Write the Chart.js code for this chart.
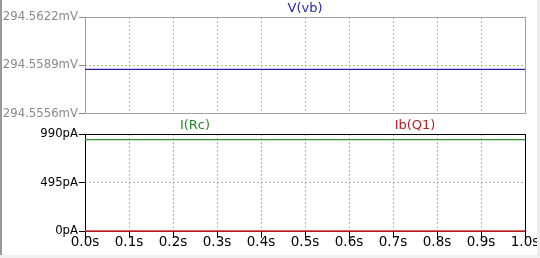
<!DOCTYPE html>
<html>
<head>
<meta charset="utf-8">
<script src="https://cdn.jsdelivr.net/npm/chart.js@4"></script>
<style>
body{margin:0;background:#fff;width:540px;height:258px;overflow:hidden;position:relative}
#edgeL{position:absolute;left:0;top:0;width:2px;height:258px;background:#9a9a9a}
#edgeR{position:absolute;left:537px;top:0;width:3px;height:258px;background:#ececec}
#edgeB{position:absolute;left:0;top:255px;width:540px;height:3px;background:#f0f0f0}
#wTop{position:absolute;left:0;top:0;width:540px;height:122px}
#wBot{position:absolute;left:0;top:110px;width:540px;height:148px}
</style>
</head>
<body>
<div id="wTop"><canvas id="chartTopHTML"></canvas></div>
<div id="wBot"><canvas id="chartBotHTML"></canvas></div>
<div id="edgeL"></div><div id="edgeR"></div><div id="edgeB"></div>
<script>
// time axis
const times=[0,1]
const xTicks=[0,0.1,0.2,0.3,0.4,0.5,0.6,0.7,0.8,0.9,1.0]
const xTickLabels=["0.0s","0.1s","0.2s","0.3s","0.4s","0.5s","0.6s","0.7s","0.8s","0.9s","1.0s"]

// top pane, mV
const vbValues=[294.5586,294.5586]
const topTicks=[294.5556,294.5589,294.5622]
const topTickLabels=["294.5556mV","294.5589mV","294.5622mV"]

// bottom pane, pA
const ircValues=[932,932]
const ibValues=[0,0]
const botTicks=[0,495,990]
const botTickLabels=["0pA","495pA","990pA"]

const FONT_N="'DejaVu Sans Condensed','DejaVu Sans',sans-serif"
const FONT_W="'DejaVu Sans',sans-serif"
Chart.defaults.font.family=FONT_N
Chart.defaults.font.size=13

const framePlugin={
  id:'frame',
  beforeDatasetsDraw(chart,args,opts){
    const a=chart.chartArea,ctx=chart.ctx
    ctx.save()
    ctx.strokeStyle=opts.color
    ctx.lineWidth=1
    ctx.strokeRect(Math.round(a.left)+0.5,Math.round(a.top)+0.5,Math.round(a.right-a.left),Math.round(a.bottom-a.top))
    ctx.restore()
  }
}
const namesPlugin={
  id:'names',
  afterDraw(chart,args,opts){
    const a=chart.chartArea,ctx=chart.ctx
    ctx.save()
    ctx.font="13px "+FONT_W
    ctx.textAlign='center'
    ctx.textBaseline='middle'
    opts.items.forEach(it=>{
      ctx.fillStyle=it.color
      ctx.fillText(it.text,a.left+(a.right-a.left)*it.at,a.top-opts.dy)
    })
    ctx.restore()
  }
}

function pts(ys){return times.map((t,i)=>({x:t,y:ys[i]}))}

function xAxis(showTicks,axisColor){
  return {
    type:'linear',min:0,max:1,
    afterBuildTicks:s=>{s.ticks=xTicks.map(v=>({value:v}))},
    afterFit:s=>{s.height=showTicks?27:0},
    grid:{color:'#b4b4b4',drawTicks:showTicks,tickLength:7,tickColor:axisColor,tickBorderDash:[],tickWidth:1},
    border:{display:false,dash:[2,2]},
    ticks:{display:showTicks,color:axisColor,padding:-4,maxRotation:0,autoSkip:false,font:{family:FONT_W,size:13.5},
      callback:(v,i)=>xTickLabels[i]}
  }
}
function yAxis(min,max,tk,labels,axisColor){
  return {
    min:min,max:max,
    afterBuildTicks:s=>{s.ticks=tk.map(v=>({value:v}))},
    afterFit:s=>{s.width=85},
    grid:{color:'#b4b4b4',drawTicks:true,tickLength:6,tickColor:axisColor,tickBorderDash:[],tickWidth:1},
    border:{display:false,dash:[2,2]},
    ticks:{color:axisColor,padding:1,autoSkip:false,callback:(v,i)=>labels[i]}
  }
}

let chartTop=new Chart(document.getElementById('chartTopHTML'),{
  type:'line',
  data:{datasets:[{label:'V(vb)',data:pts(vbValues),borderColor:'#2424b0',borderWidth:1.3,pointRadius:0,clip:false}]},
  options:{
    responsive:true,maintainAspectRatio:false,animation:false,
    layout:{padding:{top:17,right:15,bottom:8,left:0}},
    scales:{x:xAxis(false,'#999'),y:yAxis(294.5556,294.5622,topTicks,topTickLabels,'#8a8a8a')},
    plugins:{legend:{display:false},tooltip:{enabled:false},
      frame:{color:'#a0a0a0'},
      names:{dy:8,items:[{text:'V(vb)',color:'#2a2aa6',at:0.5}]}}
  },
  plugins:[framePlugin,namesPlugin]
})

let chartBot=new Chart(document.getElementById('chartBotHTML'),{
  type:'line',
  data:{datasets:[
    {label:'I(Rc)',data:pts(ircValues),borderColor:'#2f8f2f',borderWidth:1.3,pointRadius:0,clip:false},
    {label:'Ib(Q1)',data:pts(ibValues),borderColor:'#e02828',borderWidth:1.3,pointRadius:0,clip:false}
  ]},
  options:{
    responsive:true,maintainAspectRatio:false,animation:false,
    layout:{padding:{top:24,right:15,bottom:0,left:0}},
    scales:{x:xAxis(true,'#000'),y:yAxis(0,990,botTicks,botTickLabels,'#000')},
    plugins:{legend:{display:false},tooltip:{enabled:false},
      frame:{color:'#000'},
      names:{dy:8,items:[{text:'I(Rc)',color:'#2a8a2a',at:0.25},{text:'Ib(Q1)',color:'#b02222',at:0.75}]}}
  },
  plugins:[framePlugin,namesPlugin]
})
</script>
</body>
</html>
